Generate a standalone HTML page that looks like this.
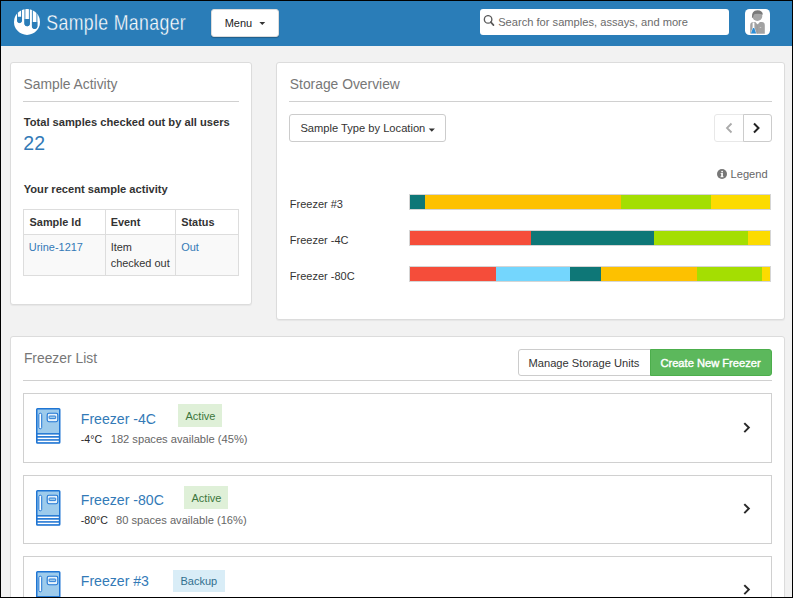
<!DOCTYPE html>
<html><head><meta charset="utf-8">
<style>
*{box-sizing:border-box;margin:0;padding:0}
html,body{width:793px;height:598px;overflow:hidden}
body{position:relative;background:#000;font-family:"Liberation Sans",sans-serif;color:#333}
.a{position:absolute}
.t{position:absolute;white-space:nowrap;line-height:1}
#page{position:absolute;left:1px;top:1px;width:791px;height:596px;background:#f2f2f2}
#hdr{position:absolute;left:1px;top:1px;width:791px;height:45px;background:#2a7db8}
.card{position:absolute;background:#fff;border:1px solid #dcdcdc;border-radius:3px;box-shadow:0 1px 1px rgba(0,0,0,.05)}
.hr{position:absolute;height:1px;background:#d0d0d0}
.btn{position:absolute;background:#fff;border:1px solid #ccc;border-radius:3px}
.caret{position:absolute;width:0;height:0;border-left:3px solid transparent;border-right:3px solid transparent;border-top:3px solid #333}
.h{color:#777;font-size:13.85px}
.s{font-size:11.15px}
.b{font-weight:bold}
.lnk{color:#337ab7}
.item{position:absolute;left:23px;width:749px;background:#fff;border:1px solid #d0d0d0}
.badge{position:absolute;border-radius:0}
</style></head><body>
<div id="page"></div>
<div id="hdr"></div>
<div id="clip" class="a" style="left:1px;top:1px;width:791px;height:596px;overflow:hidden">
<div class="a" style="left:-1px;top:-1px;width:793px;height:598px">

<!-- logo -->
<svg class="a" style="left:12px;top:6px" width="30" height="32" viewBox="12 6 30 32">
 <defs><clipPath id="lc"><circle cx="27" cy="21.9" r="13.1"/></clipPath></defs>
 <circle cx="27" cy="21.9" r="13" fill="#fff"/>
 <g clip-path="url(#lc)">
  <path d="M17.5 5 V20.60 A2.00 2.00 0 0 0 21.5 20.60 V5" fill="none" stroke="#2a7db8" stroke-width="0.9"/>
  <path d="M17.05 16.8 V20.60 A2.45 2.45 0 0 0 21.95 20.60 V16.8 Z" fill="#2a7db8"/>
  <path d="M24.9 5 V23.55 A2.25 2.25 0 0 0 29.4 23.55 V5" fill="none" stroke="#2a7db8" stroke-width="0.9"/>
  <path d="M24.45 19.1 V23.55 A2.70 2.70 0 0 0 29.85 23.55 V19.1 Z" fill="#2a7db8"/>
  <path d="M32.4 5 V26.25 A2.25 2.25 0 0 0 36.9 26.25 V5" fill="none" stroke="#2a7db8" stroke-width="0.9"/>
  <path d="M31.95 21.9 V26.25 A2.70 2.70 0 0 0 37.35 26.25 V21.9 Z" fill="#2a7db8"/>
 </g>
</svg>
<svg class="a" style="left:40px;top:6px" width="160" height="34" viewBox="40 6 160 34"><text transform="translate(46.3 29.8) scale(0.83 1)" x="0" y="0" font-family="Liberation Sans" font-size="21.3" fill="#fff" stroke="#2a7db8" stroke-width="0.35" textLength="168" lengthAdjust="spacing">Sample Manager</text></svg>

<!-- menu -->
<div class="btn" style="left:211px;top:9px;width:68px;height:28px;border-color:#dcdcdc;box-shadow:0 1px 1px rgba(0,0,0,.25)"></div>
<div class="t" style="left:224.7px;top:18.4px;font-size:11px;color:#222">Menu</div>
<svg class="a" style="left:256px;top:18px" width="12" height="10" viewBox="256 18 12 10"><path d="M259.4 22 H265.2 L262.3 25.1 Z" fill="#333"/></svg>

<!-- search -->
<div class="a" style="left:480px;top:9px;width:249px;height:26px;background:#fff;border-radius:3px"></div>
<svg class="a" style="left:483px;top:15px" width="12" height="12" viewBox="0 0 12 12">
 <circle cx="5.1" cy="4.4" r="3.75" fill="none" stroke="#5a5a5a" stroke-width="1.35"/>
 <path d="M7.8 7.2 L10.5 10.1" stroke="#5a5a5a" stroke-width="1.7" stroke-linecap="round"/>
</svg>
<div class="t" style="left:498.2px;top:17.4px;font-size:11.13px;color:#6b6b6b">Search for samples, assays, and more</div>

<!-- avatar -->
<div class="a" style="left:745px;top:9px;width:25px;height:26px;background:#fff;border-radius:4.5px"></div>
<svg class="a" style="left:745px;top:9px" width="25" height="26" viewBox="745 9 25 26">
 <path d="M750.2 33.7 V25.2 Q750.2 22.3 753.2 22.1 L755.3 21.9 L757.6 24.6 L759.9 21.9 L761.9 22.1 Q764.8 22.3 764.8 25.2 V33.7 Z" fill="#a2a2a2"/>
 <path d="M757.2 24.4 V33.7" stroke="#959595" stroke-width="0.6"/>
 <rect x="759.8" y="27.1" width="1.4" height="0.6" fill="#e6e6e6"/>
 <circle cx="757.3" cy="16" r="5" fill="#a6a6a6"/>
 <path d="M751.9 17.6 Q751.4 10.3 757.4 10.2 Q762.6 10.2 762.9 14.8 Q760.2 13.2 754.6 13.9 Q753.3 15 752.9 17.8 Z" fill="#7a7a7a"/>
 <path d="M752.6 22.6 H754.4 V27.2 L756.6 33.7 H750.6 L752.6 27.2 Z" fill="#fff"/>
 <path d="M752.9 28 H754.3 L756.2 33.6 H750.9 Z" fill="#2b8ed8"/>
</svg>

<!-- Sample Activity card -->
<div class="card" style="left:10px;top:62px;width:242px;height:243px"></div>
<div class="t h" style="left:23.6px;top:78px">Sample Activity</div>
<div class="hr" style="left:23px;top:101px;width:216px"></div>
<div class="t s b" style="left:23.7px;top:116.6px">Total samples checked out by all users</div>
<div class="t lnk" style="left:23.3px;top:133.5px;font-size:19.5px">22</div>
<div class="t s b" style="left:23.7px;top:183.6px">Your recent sample activity</div>
<div class="a" style="left:23px;top:209px;width:216px;height:67px;border:1px solid #ddd;background:#f9f9f9"></div>
<div class="a" style="left:24px;top:210px;width:214px;height:24px;background:#fff"></div>
<div class="a" style="left:23px;top:234px;width:216px;height:1px;background:#ddd"></div>
<div class="a" style="left:105px;top:209px;width:1px;height:67px;background:#ddd"></div>
<div class="a" style="left:175px;top:209px;width:1px;height:67px;background:#ddd"></div>
<div class="t s b" style="left:29.6px;top:216.8px;font-size:10.9px">Sample Id</div>
<div class="t s b" style="left:110.7px;top:216.8px;font-size:10.9px">Event</div>
<div class="t s b" style="left:181.2px;top:216.8px;font-size:10.9px">Status</div>
<div class="t lnk" style="left:28.8px;top:241.6px;font-size:10.95px">Urine-1217</div>
<div class="t" style="left:110.7px;top:241.6px;font-size:10.95px">Item</div>
<div class="t" style="left:110.7px;top:258.3px;font-size:10.95px">checked out</div>
<div class="t lnk" style="left:181.2px;top:241.6px;font-size:10.95px">Out</div>

<!-- Storage Overview card -->
<div class="card" style="left:276px;top:62px;width:509px;height:258px"></div>
<div class="t h" style="left:289.8px;top:77.6px">Storage Overview</div>
<div class="hr" style="left:289px;top:101px;width:483px"></div>
<div class="btn" style="left:289px;top:114px;width:157px;height:28px"></div>
<div class="t s" style="left:300.4px;top:123px">Sample Type by Location</div>
<svg class="a" style="left:425px;top:124px" width="14" height="10" viewBox="425 124 14 10"><path d="M428.7 128.6 H434.9 L431.8 131.7 Z" fill="#333"/></svg>
<div class="btn" style="left:714px;top:114px;width:30px;height:28px;border-color:#e8e8e8;border-radius:3px 0 0 3px"></div>
<div class="btn" style="left:743px;top:114px;width:29px;height:28px;border-radius:0 3px 3px 0"></div>
<svg class="a" style="left:724px;top:122px" width="10" height="12" viewBox="0 0 10 12">
 <path d="M7.5 1.5 L3 6 L7.5 10.5" fill="none" stroke="#aaa" stroke-width="1.8"/>
</svg>
<svg class="a" style="left:752px;top:122px" width="10" height="12" viewBox="0 0 10 12">
 <path d="M2 1.5 L6.5 6 L2 10.5" fill="none" stroke="#222" stroke-width="2"/>
</svg>
<svg class="a" style="left:717px;top:169px" width="10" height="10" viewBox="0 0 10 10">
 <circle cx="5" cy="5" r="5" fill="#777"/>
 <rect x="4.2" y="4" width="1.7" height="4" fill="#fff"/>
 <rect x="3.5" y="7.3" width="3" height="0.9" fill="#fff"/>
 <rect x="3.6" y="4" width="1.2" height="0.8" fill="#fff"/>
 <circle cx="5.1" cy="2.6" r="0.9" fill="#fff"/>
</svg>
<div class="t s" style="left:730.6px;top:169.2px;color:#666;font-size:11.1px">Legend</div>

<div class="t s" style="left:289.8px;top:198.8px;font-size:11px">Freezer #3</div>
<div class="t s" style="left:289.8px;top:234.6px;font-size:11px">Freezer -4C</div>
<div class="t s" style="left:289.8px;top:270.5px;font-size:11px">Freezer -80C</div>

<div class="a" style="left:409px;top:194px;width:362px;height:16px;border:1px solid #d5d5d5;display:flex">
 <div style="width:15px;background:#0e7777"></div>
 <div style="width:196px;background:#fdc100"></div>
 <div style="width:90px;background:#a4de02"></div>
 <div style="flex:1;background:#fcdb00"></div>
</div>
<div class="a" style="left:409px;top:230px;width:362px;height:16px;border:1px solid #d5d5d5;display:flex">
 <div style="width:121px;background:#f54d3a"></div>
 <div style="width:123px;background:#0e7777"></div>
 <div style="width:94px;background:#a4de02"></div>
 <div style="flex:1;background:#fcdb00"></div>
</div>
<div class="a" style="left:409px;top:266px;width:362px;height:16px;border:1px solid #d5d5d5;display:flex">
 <div style="width:86px;background:#f54d3a"></div>
 <div style="width:74px;background:#74d6fd"></div>
 <div style="width:31px;background:#0e7777"></div>
 <div style="width:96px;background:#fdc100"></div>
 <div style="width:65px;background:#a4de02"></div>
 <div style="flex:1;background:#fcdb00"></div>
</div>

<!-- Freezer List card -->
<div class="card" style="left:10px;top:336px;width:775px;height:300px"></div>
<div class="t h" style="left:23.9px;top:352px">Freezer List</div>
<div class="btn" style="left:518px;top:349px;width:133px;height:27px;border-radius:3px 0 0 3px"></div>
<div class="t s" style="left:528.5px;top:357.6px">Manage Storage Units</div>
<div class="a" style="left:649.5px;top:349px;width:122.5px;height:27px;background:#5cb85c;border:1px solid #4cae4c;border-radius:0 3px 3px 0"></div>
<div class="t s" style="left:660.4px;top:357.6px;color:#fff;-webkit-text-stroke:0.4px #fff">Create New Freezer</div>
<div class="hr" style="left:23px;top:380px;width:749px"></div>

<div class="item" style="top:393px;height:70px"></div>
<div class="item" style="top:475px;height:69px"></div>
<div class="item" style="top:556px;height:70px"></div>

<svg width="0" height="0" style="position:absolute">
 <defs>
  <g id="fz">
   <rect x="0.75" y="0.75" width="23" height="34.3" rx="0.8" fill="#9dcbec" stroke="#1f75d3" stroke-width="1.5"/>
   <rect x="2.9" y="5.2" width="2.8" height="15.6" rx="1.4" fill="#fff" stroke="#1f75d3" stroke-width="1"/>
   <rect x="11.2" y="5.3" width="10.6" height="8.4" rx="1.6" fill="#e8f3fb" stroke="#1f75d3" stroke-width="1.1"/>
   <rect x="13.1" y="8" width="6.6" height="2.6" rx="0.5" fill="#9dcbec" stroke="#1f75d3" stroke-width="0.9"/>
   <rect x="0.75" y="25.1" width="23" height="10" fill="#1f75d3"/>
   <rect x="1.6" y="26.6" width="21.2" height="1.45" fill="#fff"/>
   <rect x="1.6" y="29.7" width="21.2" height="1.45" fill="#fff"/>
   <rect x="1.6" y="32.7" width="21.2" height="1.45" fill="#fff"/>
  </g>
 </defs>
</svg>

<svg class="a" style="left:36px;top:408px" width="25" height="36" viewBox="0 0 25 36"><use href="#fz"/></svg>
<div class="t lnk" style="left:80.8px;top:411.8px;font-size:14.1px">Freezer -4C</div>
<div class="badge" style="left:178px;top:404px;width:44px;height:23px;background:#dff0d8"></div>
<div class="t" style="left:185.5px;top:411px;font-size:11px;color:#3c763d">Active</div>
<div class="t" style="left:80.8px;top:434px;font-size:10.6px;color:#2a2a2a">-4°C</div>
<div class="t" style="left:110.7px;top:434px;font-size:11.15px;color:#666">182 spaces available (45%)</div>
<svg class="a" style="left:742px;top:422px" width="10" height="12" viewBox="0 0 10 12">
 <path d="M2.3 1.1 L6.8 5.6 L2.3 10.1" fill="none" stroke="#2a2a2a" stroke-width="2"/>
</svg>

<svg class="a" style="left:36px;top:490px" width="25" height="36" viewBox="0 0 25 36"><use href="#fz"/></svg>
<div class="t lnk" style="left:80.8px;top:492.8px;font-size:14.1px">Freezer -80C</div>
<div class="badge" style="left:184px;top:486px;width:44px;height:23px;background:#dff0d8"></div>
<div class="t" style="left:191.5px;top:493px;font-size:11px;color:#3c763d">Active</div>
<div class="t" style="left:80.8px;top:515.2px;font-size:10.6px;color:#2a2a2a">-80°C</div>
<div class="t" style="left:116px;top:515.4px;font-size:11.15px;color:#666">80 spaces available (16%)</div>
<svg class="a" style="left:742px;top:503px" width="10" height="12" viewBox="0 0 10 12">
 <path d="M2.3 1.1 L6.8 5.6 L2.3 10.1" fill="none" stroke="#2a2a2a" stroke-width="2"/>
</svg>

<svg class="a" style="left:36px;top:571px" width="25" height="36" viewBox="0 0 25 36"><use href="#fz"/></svg>
<div class="t lnk" style="left:80.8px;top:573.5px;font-size:14.1px">Freezer #3</div>
<div class="badge" style="left:173px;top:570px;width:52px;height:22px;background:#d9edf7"></div>
<div class="t" style="left:180.5px;top:575.5px;font-size:11px;color:#31708f">Backup</div>
<svg class="a" style="left:742px;top:584px" width="10" height="12" viewBox="0 0 10 12">
 <path d="M2.3 1.1 L6.8 5.6 L2.3 10.1" fill="none" stroke="#2a2a2a" stroke-width="2"/>
</svg>

</div></div>
</body></html>
